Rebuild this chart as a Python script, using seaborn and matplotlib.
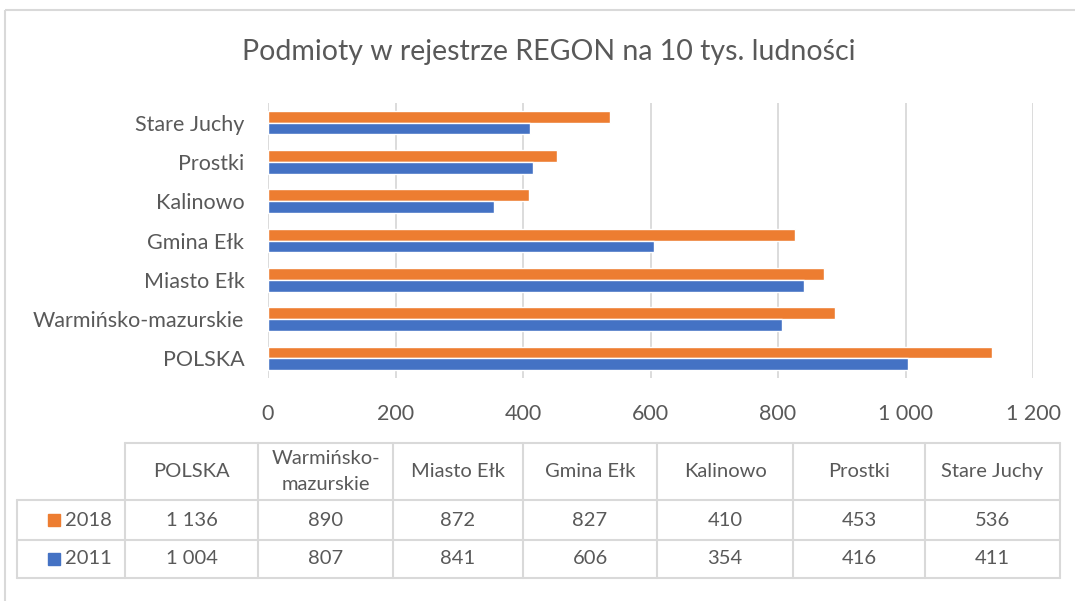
import numpy as np
import pandas as pd
import matplotlib.pyplot as plt
import seaborn as sns
from matplotlib.patches import Rectangle

# dane z tabeli pod wykresem
categories = ["POLSKA", "Warmińsko-mazurskie", "Miasto Ełk", "Gmina Ełk",
              "Kalinowo", "Prostki", "Stare Juchy"]
header_labels = ["POLSKA", "Warmińsko-\nmazurskie", "Miasto Ełk", "Gmina Ełk",
                 "Kalinowo", "Prostki", "Stare Juchy"]
years = ["2018", "2011"]
values_2018 = [1136, 890, 872, 827, 410, 453, 536]
values_2011 = [1004, 807, 841, 606, 354, 416, 411]

colors = {"2018": "#ED7D31", "2011": "#4472C4"}
txt = "#595959"

df = pd.DataFrame({
    "region": categories * 2,
    "rok": ["2018"] * 7 + ["2011"] * 7,
    "wartosc": values_2018 + values_2011,
})

sns.set_style("white")
plt.rcParams["font.family"] = ["Lato", "DejaVu Sans"]

W, H = 1075, 601
fig = plt.figure(figsize=(W / 100, H / 100), dpi=100)

ax = fig.add_axes([268 / W, 1 - 378 / H, 765 / W, 275 / H])
sns.barplot(data=df, y="region", x="wartosc", hue="rok", orient="h",
            order=categories[::-1], hue_order=years, palette=colors,
            saturation=1, width=0.6, ax=ax, legend=False)

ax.set_xlim(0, 1200)
ax.set_ylim(6.5, -0.5)
ax.set_xticks(range(0, 1201, 200))
ax.set_xticklabels([f"{v:,}".replace(",", " ") for v in range(0, 1201, 200)])
ax.grid(axis="x", color="#D9D9D9", linewidth=1.3)
ax.set_axisbelow(True)
for s in ax.spines.values():
    s.set_visible(False)
ax.tick_params(axis="both", length=0, labelsize=15.5, colors=txt)
ax.tick_params(axis="x", pad=19)
ax.tick_params(axis="y", pad=17)
ax.set_xlabel("")
ax.set_ylabel("")

# nakladka do ramki, tytulu i tabeli (wspolrzedne w pikselach)
ov = fig.add_axes([0, 0, 1, 1])
ov.set_xlim(0, W)
ov.set_ylim(H, 0)
ov.axis("off")
ov.patch.set_alpha(0)

ov.add_patch(Rectangle((5, 10), W, H, fill=False, edgecolor="#D9D9D9", linewidth=1.5))
ov.text(549, 52, "Podmioty w rejestrze REGON na 10 tys. ludności",
        ha="center", va="center", fontsize=20.5, color=txt)

col_x = [125, 258, 393, 523, 657, 793, 925, 1060]
row_y = [443, 500, 540, 578]
grid_kw = dict(color="#D9D9D9", linewidth=1.5)

ov.plot([col_x[0], col_x[-1]], [row_y[0]] * 2, **grid_kw)
for y in row_y[1:]:
    ov.plot([17, col_x[-1]], [y, y], **grid_kw)
for x in col_x:
    ov.plot([x, x], [row_y[0], row_y[-1]], **grid_kw)
ov.plot([17, 17], [row_y[1], row_y[-1]], **grid_kw)

for i, lab in enumerate(header_labels):
    cx = (col_x[i] + col_x[i + 1]) / 2
    ov.text(cx, (row_y[0] + row_y[1]) / 2, lab, ha="center", va="center",
            fontsize=14.5, color=txt, linespacing=1.6)

for r, (yr, vals) in enumerate(zip(years, [values_2018, values_2011])):
    cy = (row_y[r + 1] + row_y[r + 2]) / 2
    ov.add_patch(Rectangle((48, cy - 6), 12, 12, color=colors[yr]))
    ov.text(65, cy, yr, ha="left", va="center", fontsize=14.5, color=txt)
    for i, v in enumerate(vals):
        cx = (col_x[i] + col_x[i + 1]) / 2
        ov.text(cx, cy, f"{v:,}".replace(",", " "), ha="center", va="center",
                fontsize=14.5, color=txt)

fig.savefig("out.png", dpi=100)
